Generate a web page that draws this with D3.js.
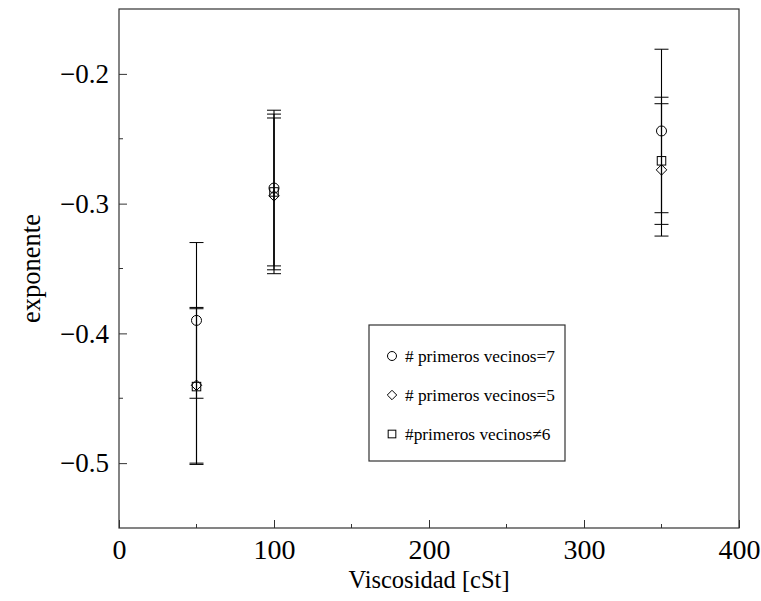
<!DOCTYPE html>
<html>
<head>
<meta charset="utf-8">
<script src="https://cdn.jsdelivr.net/npm/d3@7"></script>
<style>
  body { margin: 0; background: #fff; }
  svg text { font-family: "Liberation Serif", "DejaVu Serif", serif; }
</style>
</head>
<body>
<svg id="main_svg" width="761" height="601"></svg>
<script>
// viscosity values (cSt)
const viscosidad = [50, 100, 350];

// exponent and error for each neighbour count
const vecinos7 = [-0.390, -0.288, -0.244];
const vecinos7Err = [0.060, 0.060, 0.063];
const vecinos5 = [-0.440, -0.294, -0.274];
const vecinos5Err = [0.060, 0.060, 0.051];
const vecinosNo6 = [-0.441, -0.291, -0.267];
const vecinosNo6Err = [0.060, 0.060, 0.049];

const xTicks = [0, 100, 200, 300, 400];
const yTicks = [-0.5, -0.4, -0.3, -0.2];

const seriesNames = ["# primeros vecinos=7", "# primeros vecinos=5", "#primeros vecinos\u22606"];

const series = [
  { name: seriesNames[0], y: vecinos7, err: vecinos7Err, symbol: "circle" },
  { name: seriesNames[1], y: vecinos5, err: vecinos5Err, symbol: "diamond" },
  { name: seriesNames[2], y: vecinosNo6, err: vecinosNo6Err, symbol: "square" }
];

const svg = d3.select("#main_svg");
const margin = { top: 9, right: 22, bottom: 73, left: 119 };
const width = 761, height = 601;
const serif = "Liberation Serif";

const x = d3.scaleLinear().domain([0, 400]).range([margin.left, width - margin.right]);
const y = d3.scaleLinear().domain([-0.55, -0.15]).range([height - margin.bottom, margin.top]);

// axes, ticks inward
const xAxis = g =>
  g.attr("transform", `translate(0,${height - margin.bottom})`)
    .call(d3.axisBottom(x).tickValues(xTicks).tickSize(-8).tickPadding(11).tickFormat(d3.format("d")))
    .call(g => g.select(".domain").remove());

const yAxis = g =>
  g.attr("transform", `translate(${margin.left},0)`)
    .call(d3.axisLeft(y).tickValues(yTicks).tickSize(-8).tickPadding(10).tickFormat(d3.format(".1f")))
    .call(g => g.select(".domain").remove());

svg.append("g").call(xAxis)
  .attr("font-family", serif).attr("font-size", 28)
  .call(g => g.selectAll("line").attr("stroke", "#333"))
  .call(g => g.selectAll("text").attr("fill", "#000"));

svg.append("g").call(yAxis)
  .attr("font-family", serif).attr("font-size", 27)
  .call(g => g.selectAll("line").attr("stroke", "#333"))
  .call(g => g.selectAll("text").attr("fill", "#000"));

// minor ticks
const xMinor = [50, 150, 250, 350];
const yMinor = [-0.45, -0.35, -0.25];
svg.append("g").selectAll("line").data(xMinor).enter().append("line")
  .attr("x1", d => x(d)).attr("x2", d => x(d))
  .attr("y1", height - margin.bottom).attr("y2", height - margin.bottom - 4)
  .attr("stroke", "#333");
svg.append("g").selectAll("line").data(yMinor).enter().append("line")
  .attr("x1", margin.left).attr("x2", margin.left + 4)
  .attr("y1", d => y(d)).attr("y2", d => y(d))
  .attr("stroke", "#333");

// frame
svg.append("rect")
  .attr("x", margin.left).attr("y", margin.top)
  .attr("width", width - margin.left - margin.right)
  .attr("height", height - margin.top - margin.bottom)
  .attr("fill", "none").attr("stroke", "#333").attr("stroke-width", 1.2);

// axis titles
svg.append("text")
  .attr("x", (margin.left + width - margin.right) / 2).attr("y", 588)
  .attr("text-anchor", "middle").attr("font-size", 24.5)
  .text("Viscosidad [cSt]");

svg.append("text")
  .attr("transform", `translate(40,${(margin.top + height - margin.bottom) / 2}) rotate(-90)`)
  .attr("text-anchor", "middle").attr("font-size", 26.5)
  .text("exponente");

// error bars
const capW = 7;
series.forEach(s => {
  const g = svg.append("g");
  const pts = viscosidad.map((v, i) => ({ x: v, y: s.y[i], e: s.err[i] }));
  g.selectAll(".bar").data(pts).enter().append("line")
    .attr("x1", d => x(d.x)).attr("x2", d => x(d.x))
    .attr("y1", d => y(d.y + d.e)).attr("y2", d => y(d.y - d.e))
    .attr("stroke", "#000").attr("stroke-width", 1.1);
  g.selectAll(".capT").data(pts).enter().append("line")
    .attr("x1", d => x(d.x) - capW).attr("x2", d => x(d.x) + capW)
    .attr("y1", d => y(d.y + d.e)).attr("y2", d => y(d.y + d.e))
    .attr("stroke", "#000").attr("stroke-width", 1);
  g.selectAll(".capB").data(pts).enter().append("line")
    .attr("x1", d => x(d.x) - capW).attr("x2", d => x(d.x) + capW)
    .attr("y1", d => y(d.y - d.e)).attr("y2", d => y(d.y - d.e))
    .attr("stroke", "#000").attr("stroke-width", 1);
});

// markers
function drawSymbol(sel, type, cx, cy, size) {
  if (type === "circle") {
    sel.append("circle").attr("cx", cx).attr("cy", cy).attr("r", size)
      .attr("fill", "none").attr("stroke", "#000").attr("stroke-width", 1);
  } else if (type === "diamond") {
    const r = size * 1.05;
    sel.append("path")
      .attr("d", `M${cx},${cy - r}L${cx + r},${cy}L${cx},${cy + r}L${cx - r},${cy}Z`)
      .attr("fill", "none").attr("stroke", "#000").attr("stroke-width", 1);
  } else {
    const r = size * 0.85;
    sel.append("rect").attr("x", cx - r).attr("y", cy - r)
      .attr("width", 2 * r).attr("height", 2 * r)
      .attr("fill", "none").attr("stroke", "#000").attr("stroke-width", 1);
  }
}

series.forEach(s => {
  const g = svg.append("g");
  viscosidad.forEach((v, i) => drawSymbol(g, s.symbol, x(v), y(s.y[i]), 5));
});

// legend
const legend = svg.append("g");
legend.append("rect")
  .attr("x", 369).attr("y", 325).attr("width", 196).attr("height", 136)
  .attr("fill", "#fff").attr("stroke", "#333").attr("stroke-width", 1.2);
series.forEach((s, i) => {
  const ly = 356 + i * 39;
  drawSymbol(legend, s.symbol, 392, ly, 4.5);
  legend.append("text")
    .attr("x", 405).attr("y", ly + 6)
    .attr("font-size", 17.3)
    .text(s.name);
});
</script>
</body>
</html>
